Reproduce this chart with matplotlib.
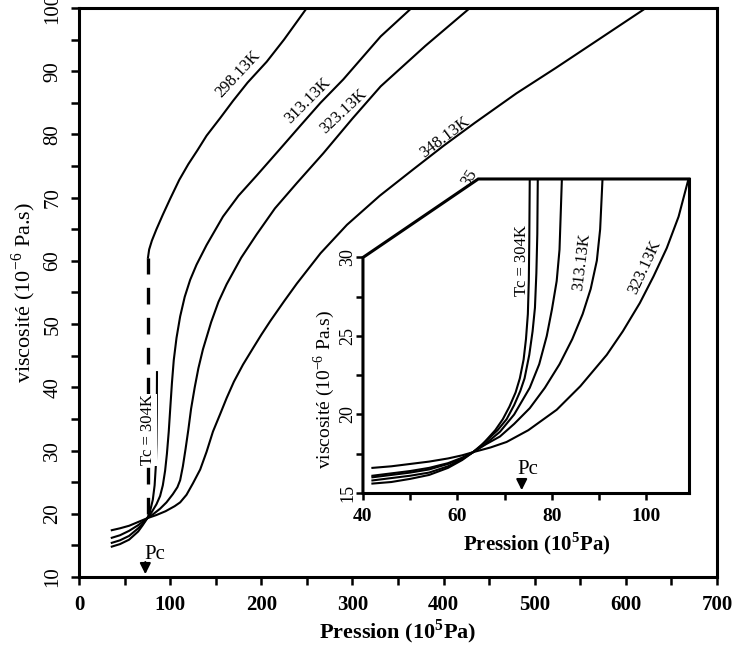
import numpy as np
import matplotlib
matplotlib.use("Agg")
from matplotlib import pyplot as plt

plt.rcParams['font.family'] = ['Liberation Serif', 'DejaVu Serif']
plt.rcParams['mathtext.fontset'] = 'custom'
plt.rcParams['mathtext.rm'] = 'Liberation Serif'
plt.rcParams['mathtext.bf'] = 'Liberation Serif:bold'

# main plot: pressure (1e5 Pa) / viscosity (1e-6 Pa.s)
p298 = [75.7, 77, 80, 85, 92, 100, 110, 120, 130, 140, 155, 169, 185, 206, 225, 246, 251]
v298 = [60.5, 61.8, 63.2, 65, 67.3, 69.8, 72.8, 75.3, 77.5, 79.8, 82.6, 85.3, 88.2, 91.5, 95, 99.2, 100.2]

p304 = [36, 45, 55, 65, 70, 75, 78, 81, 83, 84.3, 85, 85.4, 85.6]
v304 = [14.8, 15.2, 15.9, 17.2, 18.2, 19.3, 20.4, 22.2, 24.5, 27.5, 31, 36, 42.4]

p313 = [36, 45, 55, 65, 70, 75, 80, 85, 89, 92, 94.5, 96.5, 98.5, 100.3, 102, 104, 107,
        111, 116, 122, 129, 140, 158, 175, 195, 220, 243, 265, 290, 331, 365]
v313 = [15.4, 15.8, 16.5, 17.7, 18.4, 19.3, 20.3, 21.5, 22.8, 24.5, 26.8, 29.5, 33, 37, 40.7, 44.3, 47.8,
        51.2, 54.3, 57, 59.4, 62.5, 67, 70.3, 73.5, 77.6, 81.4, 85, 88.7, 95.5, 100]

p323 = [36, 45, 55, 65, 75, 82, 89, 96, 103, 108, 111, 114, 117, 120, 123, 127, 131, 136,
        145, 153, 162, 178, 195, 215, 239, 268, 300, 331, 380, 429]
v323 = [16.2, 16.6, 17.3, 18.2, 19.3, 20, 20.8, 21.8, 23.1, 24.2, 25.3, 27.5, 30.3, 33.3, 36.6, 40, 43, 46,
        50.3, 53.5, 56.3, 60.5, 64.2, 68.3, 72.3, 77, 82.5, 87.6, 94, 100]

p348 = [36, 45, 55, 65, 75, 85, 95, 105, 111, 118, 125, 133, 140, 147, 155, 162, 170, 180, 191,
        200, 210, 225, 239, 265, 294, 330, 367, 400, 434, 480, 523, 570, 619]
v348 = [17.4, 17.7, 18.1, 18.7, 19.3, 19.8, 20.4, 21.2, 21.8, 23, 24.8, 27, 29.8, 33, 35.8, 38.3, 40.9, 43.6, 46.2,
        48.3, 50.5, 53.6, 56.4, 61.2, 65.7, 70.3, 74.5, 78.2, 81.8, 86.5, 90.5, 95, 99.7]

pc = 73.8
dash_v = [20, 60.5]

main_labels = ["298.13K", "313.13K", "323.13K", "348.13K"]
main_label_xy = [(175, 89.6), (251, 85.4), (290, 83.6), (402, 79.6)]
main_label_rot = [47, 45, 43, 37]

# inset (zoom near Pc)
iA_p = [42, 46, 50, 54, 58, 61, 63.3, 65, 66.5, 68, 69.6, 71, 72.3, 73.2, 74, 74.5, 74.9, 75.1, 75.2, 75.3]
iA_v = [15.6, 15.7, 15.9, 16.15, 16.6, 17.1, 17.6, 18.0, 18.5, 19.0, 19.7, 20.5, 21.4, 22.3, 23.5, 24.8, 26.4, 28.5, 31, 35]
iB_p = [42, 46, 50, 54, 58, 61, 63.3, 66, 68.5, 70.4, 72, 73.3, 74.2, 75.2, 75.9, 76.4, 76.7, 76.9, 77]
iB_v = [15.8, 15.95, 16.1, 16.3, 16.7, 17.15, 17.6, 18.3, 19.0, 19.7, 20.6, 21.5, 22.3, 23.8, 25.3, 26.8, 29, 31.5, 35]
iC_p = [42, 46, 50, 54, 58, 61, 63.3, 66, 69, 72, 75.3, 77.3, 78.9, 80, 81, 81.6, 82.1]
iC_v = [16.0, 16.15, 16.3, 16.5, 16.85, 17.2, 17.6, 18.15, 18.9, 20.0, 21.7, 23.2, 25.0, 26.7, 28.5, 30.5, 35]
iD_p = [42, 46, 50, 54, 58, 61, 63.3, 66, 69, 72, 75.3, 78.5, 81.6, 84.3, 86.5, 88.2, 89.5, 90.2, 90.7]
iD_v = [16.1, 16.25, 16.4, 16.6, 16.9, 17.25, 17.6, 18.1, 18.6, 19.4, 20.4, 21.7, 23.2, 24.8, 26.4, 28.0, 29.8, 31.8, 35]
iE_p = [42, 46, 50, 54, 58, 61, 63.3, 67, 70.4, 75, 81, 86, 91.6, 95, 98.6, 101.5, 104.3, 106.8, 108.9]
iE_v = [16.6, 16.7, 16.85, 17.0, 17.2, 17.4, 17.6, 17.9, 18.25, 19.0, 20.3, 21.8, 23.8, 25.3, 27.1, 28.8, 30.6, 32.6, 35]

fig = plt.figure(figsize=(7.45, 6.48), dpi=100)
ax = fig.add_axes([0.106, 0.1096, 0.8564, 0.8781])

lw = 1.5
for p, v in [(p298, v298), (p304, v304), (p313, v313), (p323, v323), (p348, v348)]:
    ax.plot(p, v, color='k', lw=lw, solid_joinstyle='round')
ax.plot([pc + 1.9, pc + 1.9], dash_v, color='k', lw=2.4, dashes=(5, 4))

ax.set_xlim(0, 700)
ax.set_ylim(10, 100)
ax.set_xticks(np.arange(0, 701, 100))
ax.set_xticks(np.arange(0, 701, 50), minor=True)
ax.set_yticks(np.arange(10, 101, 10))
ax.set_yticks(np.arange(10, 101, 5), minor=True)
for s in ax.spines.values():
    s.set_linewidth(2.2)
ax.tick_params(which='both', direction='out', length=6, width=1.8)
ax.tick_params(axis='x', labelsize=15, pad=7)
ax.tick_params(axis='y', labelsize=15, pad=6)
for t in ax.get_xticklabels():
    t.set_fontweight('bold')
for t in ax.get_yticklabels():
    t.set_rotation(90)
    t.set_va('center')
ax.set_xlabel('Pression (10$^{\\mathbf{5}}$Pa)', fontsize=16, fontweight='bold', labelpad=2)
ax.set_ylabel('viscosité (10$^{-6}$ Pa.s)', fontsize=16, labelpad=4)

for lab, (x, y), r in zip(main_labels, main_label_xy, main_label_rot):
    ax.text(x, y, lab, rotation=r, ha='center', va='center', fontsize=12)
ax.text(pc + 1.9, 33.3, 'Tc = 304K', rotation=90, ha='center', va='center', fontsize=12,
        bbox=dict(facecolor='white', edgecolor='none', pad=0.5))
ax.annotate('', xy=(pc - 1, 10), xytext=(pc - 1, 12.8),
            arrowprops=dict(arrowstyle='-|>', color='k', lw=1.5, mutation_scale=16))
ax.text(pc + 9, 13.5, 'Pc', ha='center', va='center', fontsize=15)

# inset
ins = fig.add_axes([0.4872, 0.2392, 0.4376, 0.4846], facecolor='none')
for p, v in [(iA_p, iA_v), (iB_p, iB_v), (iC_p, iC_v), (iD_p, iD_v), (iE_p, iE_v)]:
    ins.plot(p, v, color='k', lw=lw, solid_joinstyle='round')
ins.set_xlim(40, 109)
ins.set_ylim(15, 35)
ins.spines['left'].set_visible(False)
ins.spines['top'].set_visible(False)
for s in ins.spines.values():
    s.set_linewidth(2.2)
ins.plot([40, 40, 64.4, 109], [15, 30, 35, 35], color='k', lw=2.2, clip_on=False,
         solid_joinstyle='miter')
ins.set_xticks([40, 60, 80, 100])
ins.set_xticks(np.arange(40, 109, 10), minor=True)
ins.set_yticks([15, 20, 25, 30])
ins.set_yticks([17.5, 22.5, 27.5], minor=True)
ins.tick_params(which='both', direction='out', length=5, width=1.8)
ins.tick_params(axis='x', labelsize=14, pad=6)
ins.tick_params(axis='y', labelsize=13, pad=0)
for t in ins.get_xticklabels():
    t.set_fontweight('bold')
for t in ins.get_yticklabels():
    t.set_rotation(90)
    t.set_va('center')
ins.set_xlabel('Pression (10$^{\\mathbf{5}}$Pa)', fontsize=15, fontweight='bold')
ins.xaxis.set_label_coords(0.534, -0.118)
ins.set_ylabel('viscosité (10$^{-6}$ Pa.s)', fontsize=14)
ins.yaxis.set_label_coords(-0.08, 0.33)
ins.text(62.5, 35.1, '35', rotation=57, ha='center', va='center', fontsize=12)
ins.text(73.6, 29.8, 'Tc = 304K', rotation=90, ha='center', va='center', fontsize=12)
ins.text(86.3, 29.7, '313.13K', rotation=83, ha='center', va='center', fontsize=12)
ins.text(99.6, 29.4, '323.13K', rotation=65, ha='center', va='center', fontsize=12)
ins.annotate('', xy=(pc - 0.2, 15), xytext=(pc - 0.2, 15.9),
             arrowprops=dict(arrowstyle='-|>', color='k', lw=1.5, mutation_scale=16))
ins.text(pc + 1.1, 16.5, 'Pc', ha='center', va='center', fontsize=15)

fig.savefig('out.png', dpi=100)
